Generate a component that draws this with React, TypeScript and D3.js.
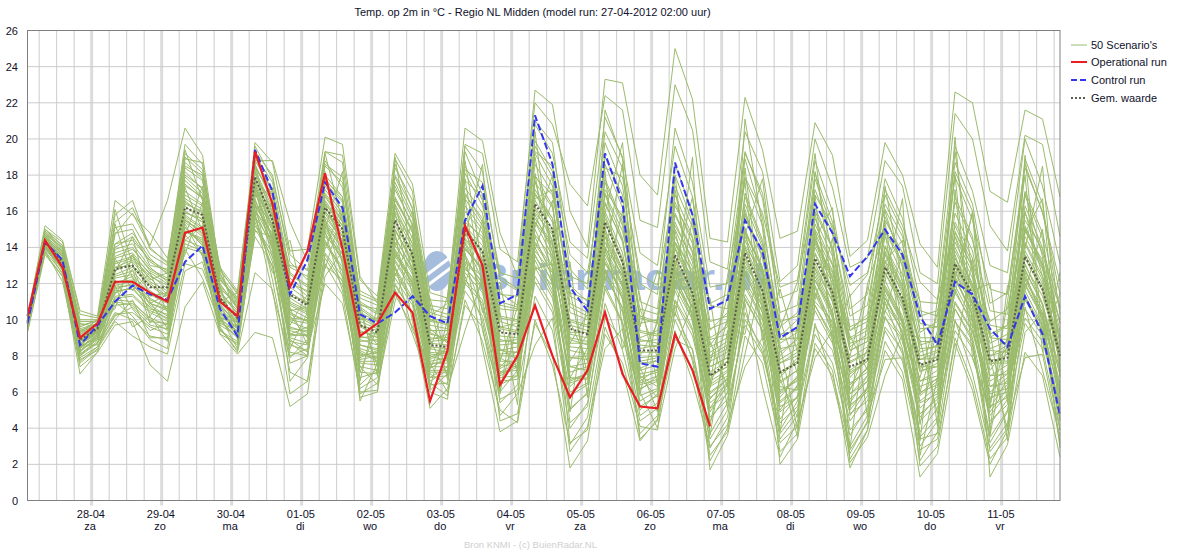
import React from 'react';
import * as d3 from 'd3';

const title = 'Temp. op 2m in °C - Regio NL Midden (model run: 27-04-2012 02:00 uur)';
const footer = 'Bron KNMI - (c) BuienRadar.NL';
const yTicks = [0, 2, 4, 6, 8, 10, 12, 14, 16, 18, 20, 22, 24, 26];
const dayLabels = ['za', 'zo', 'ma', 'di', 'wo', 'do', 'vr', 'za', 'zo', 'ma', 'di', 'wo', 'do', 'vr'];
const legendLabels = ["50 Scenario's", 'Operational run', 'Control run', 'Gem. waarde'];

const operational = [10.2,14.4,12.9,9.0,9.8,12.1,12.1,11.5,11.0,14.8,15.1,11.0,10.2,19.3,16.4,11.8,13.8,18.1,13.9,9.1,9.8,11.5,10.4,5.5,8.3,15.2,13.0,6.4,8.0,10.8,8.0,5.7,7.2,10.4,7.0,5.2,5.1,9.2,7.2,4.1];
const control = [9.8,14.3,13.3,8.6,9.7,11.0,11.9,11.4,11.1,13.2,14.1,10.6,9.1,19.4,17.1,11.4,13.3,17.6,16.2,10.3,9.8,10.4,11.3,10.2,9.8,15.5,17.4,10.9,11.4,21.3,18.6,11.8,10.5,19.2,16.5,7.6,7.4,18.7,15.8,10.6,11.1,15.5,13.8,9.0,9.6,16.4,14.8,12.4,13.5,15.0,13.6,10.2,8.6,12.1,11.4,9.5,8.5,11.3,9.2,4.7];
const mean = [9.9,14.3,13.2,8.9,9.5,12.8,13.0,11.8,11.8,16.2,15.8,11.2,10.1,17.9,15.5,11.4,10.8,16.2,15.0,9.7,9.3,15.5,13.6,8.6,8.5,14.9,13.8,9.3,9.2,16.4,15.0,9.5,9.2,15.4,13.2,8.3,8.3,13.6,11.5,6.9,7.6,13.7,11.6,7.1,7.6,13.4,11.5,7.4,7.8,12.9,11.2,7.5,7.8,13.1,11.4,7.7,7.9,13.5,11.7,8.0];

// estimated by eye, the single members can't really be followed in the picture
const scenarios = [
[9.3,13.6,12.4,7.0,8.2,9.7,9.9,7.5,6.6,10.7,12.1,9.2,8.1,9.3,9.0,5.2,5.9,13.0,12.2,7.4,7.2,12.8,11.0,6.8,7.4,12.2,11.1,6.4,6.9,12.4,10.7,5.8,6.4,12.6,11.2,5.2,5.8,10.4,8.3,3.7,5.4,9.7,8.1,4.3,5.2,9.6,8.3,4.4,5.8,10.2,8.1,3.8,5.1,9.4,7.9,4.9,6.2,10.1,8.8,5.3],
[9.5,14.0,12.8,7.6,8.4,9.9,9.1,8.5,8.1,12.7,13.2,9.6,8.2,12.6,11.7,5.9,6.6,13.4,11.9,6.8,7.1,11.4,9.6,7.3,7.9,13.2,12.4,5.4,6.4,14.6,12.3,4.3,5.2,11.7,9.8,4.7,5.4,12.2,10.0,4.4,6.0,11.2,9.4,3.4,4.7,11.8,9.2,3.9,5.0,9.4,7.7,3.0,4.4,10.6,8.8,3.2,4.9,11.2,9.4,4.4],
[9.6,14.1,13.1,8.1,8.8,10.4,10.0,9.1,8.9,14.0,13.7,9.4,8.6,15.6,13.2,7.6,8.0,14.4,12.7,6.0,6.1,12.0,10.4,6.6,7.2,11.6,10.2,6.0,7.2,13.3,11.4,5.1,5.9,13.9,11.1,5.0,5.9,11.0,9.1,5.1,6.6,12.6,10.4,5.2,5.7,10.8,8.9,2.8,4.3,11.4,9.2,4.6,5.8,9.9,8.6,2.7,4.0,12.4,10.3,3.9],
[9.7,14.2,13.0,8.3,9.0,11.2,11.3,10.4,9.9,15.1,14.2,10.0,9.0,16.6,14.5,8.7,8.0,15.2,13.6,5.5,7.6,13.7,11.9,7.0,6.4,14.3,12.6,7.1,7.6,15.0,12.9,6.3,7.2,12.7,10.6,3.4,4.4,12.8,10.7,2.9,4.6,10.4,8.2,3.9,5.5,12.8,10.6,2.3,3.9,11.0,8.4,2.2,3.8,13.6,10.8,4.2,5.6,12.6,9.9,3.1],
[9.8,14.3,13.2,8.5,9.1,12.0,12.4,10.8,10.2,15.7,15.0,10.4,9.3,17.0,14.9,9.2,9.1,15.7,14.4,7.8,8.0,14.6,12.8,7.7,7.9,13.9,12.9,8.1,8.2,15.8,13.8,7.4,7.6,14.3,12.4,6.5,6.9,13.2,11.1,5.9,6.7,13.4,11.2,6.1,6.6,12.6,10.4,5.6,6.6,12.2,10.0,5.9,6.8,12.3,10.2,5.6,6.4,11.9,10.1,6.1],
[9.8,14.4,13.4,8.8,9.3,12.4,12.7,11.6,11.0,16.0,15.4,10.9,9.6,17.5,15.1,10.0,9.8,16.0,14.8,8.6,8.4,15.0,13.2,8.2,8.1,14.4,13.3,8.6,8.7,16.1,14.4,8.3,8.1,15.0,12.8,7.2,7.5,13.5,11.5,6.4,7.1,13.9,11.7,6.6,7.2,13.1,11.0,6.4,7.3,12.6,10.6,6.6,7.2,12.9,11.0,6.3,7.0,13.1,10.9,6.9],
[9.9,14.5,13.5,9.0,9.5,12.7,13.2,12.1,11.6,16.4,16.0,11.3,10.0,17.9,15.6,10.6,10.1,16.4,15.2,9.4,9.0,15.5,13.7,8.7,8.6,15.0,13.8,9.1,9.0,16.6,15.0,9.0,8.8,15.4,13.1,7.9,8.0,14.0,12.0,6.9,7.4,14.4,12.1,7.0,7.6,13.6,11.6,7.0,7.7,13.2,11.1,7.1,7.6,13.4,11.5,6.9,7.5,13.6,11.8,7.6],
[10.0,14.6,13.6,9.2,9.6,13.1,13.4,12.4,11.9,16.9,16.3,11.6,10.3,18.2,16.0,11.2,10.6,16.9,15.5,9.9,9.5,16.2,14.2,9.2,9.0,15.6,14.4,9.6,9.4,17.2,15.6,9.7,9.4,16.0,13.7,8.6,8.5,14.6,12.5,7.4,7.9,15.0,12.7,7.6,8.0,14.2,12.2,7.6,8.2,13.8,11.8,7.8,8.2,14.0,12.0,7.5,8.1,14.3,12.4,8.2],
[10.0,14.7,13.7,9.4,9.7,13.5,13.9,12.8,12.3,17.4,16.8,12.0,10.6,18.6,16.5,11.8,11.1,17.4,16.1,10.4,9.9,16.8,14.9,9.7,9.5,16.3,15.0,10.2,10.0,18.0,16.3,10.4,10.0,16.9,14.5,9.3,9.1,15.4,13.2,8.0,8.6,15.9,13.4,8.4,8.6,15.0,13.0,8.3,8.8,14.6,12.5,8.6,8.9,14.8,12.9,8.4,8.8,15.2,13.1,9.0],
[10.1,14.9,13.9,9.7,9.9,14.2,14.4,13.3,12.7,18.0,17.3,12.4,11.0,19.0,17.0,12.5,11.8,18.0,16.8,11.0,10.4,17.6,15.6,10.4,10.1,17.3,15.9,11.0,10.7,19.2,17.4,11.3,10.8,17.8,15.4,10.2,9.9,16.5,14.2,8.9,9.2,17.0,14.4,9.2,9.4,16.0,13.9,9.0,9.6,15.7,13.4,9.5,9.6,15.9,13.8,9.2,9.7,16.3,14.0,9.8],
[10.2,15.2,14.4,10.5,10.2,16.6,15.8,14.8,13.4,18.5,18.0,12.9,11.6,19.6,17.8,13.6,12.7,18.8,17.3,11.6,11.1,18.4,16.6,11.1,11.0,19.6,18.2,12.2,11.6,21.0,19.8,12.8,11.7,20.4,18.4,12.0,11.4,20.6,17.6,11.8,12.0,19.2,17.0,11.2,11.6,18.8,16.0,10.6,11.4,17.8,15.6,11.0,10.9,18.7,16.4,10.9,11.5,18.6,15.9,12.1],
[10.1,15.0,14.3,10.3,10.1,15.8,16.6,13.9,13.2,19.7,18.6,12.8,11.4,18.8,18.8,15.4,13.2,19.3,19.1,12.2,11.3,19.2,17.5,11.5,11.2,20.6,19.9,14.8,12.4,22.7,21.9,16.0,14.0,23.3,23.1,18.0,16.9,25.0,22.2,14.5,14.3,22.3,19.4,14.5,14.9,20.9,19.1,13.5,14.4,19.8,18.0,14.2,12.9,22.6,22.0,17.1,16.5,21.6,21.1,16.8],
[10.0,14.8,14.0,9.9,9.9,15.4,16.2,14.1,16.6,20.6,19.1,12.6,10.6,19.8,18.7,13.8,13.9,20.1,19.7,12.4,10.9,18.6,16.1,10.6,10.3,19.7,19.2,13.9,13.2,22.0,20.8,17.5,16.3,22.4,21.6,15.5,15.1,23.0,20.5,13.2,12.8,20.4,18.2,12.1,13.0,20.0,17.3,12.9,13.4,18.8,17.4,12.6,12.0,21.4,20.0,15.2,13.8,20.2,19.7,14.6],
[10.0,14.7,14.0,9.6,10.0,14.8,15.0,13.0,12.8,19.2,18.3,12.5,11.2,19.1,17.6,12.6,11.9,19.3,18.7,11.2,10.8,17.9,15.8,10.2,10.9,18.3,17.6,12.6,12.3,20.8,19.2,14.3,13.4,21.2,19.0,13.7,13.0,19.6,16.8,10.8,10.6,19.3,16.7,10.4,10.8,18.1,15.4,11.3,12.5,17.2,15.2,12.1,11.1,19.6,17.1,13.0,12.6,20.0,17.4,13.1],
[9.9,14.6,13.8,9.4,9.8,14.2,14.8,13.4,12.5,18.7,17.8,12.2,11.1,18.4,16.9,12.0,11.6,18.5,17.6,10.9,10.3,17.2,15.3,9.9,9.8,17.7,16.8,11.4,11.3,19.9,18.2,12.4,12.0,19.8,17.4,11.0,10.6,18.0,15.4,9.9,10.2,17.8,15.2,9.6,10.4,17.2,14.7,10.2,10.8,16.4,14.6,10.5,10.2,17.9,15.5,11.7,11.4,18.4,16.0,11.4],
[9.9,14.5,13.7,9.3,9.7,13.9,14.2,12.9,12.1,18.2,17.2,11.9,10.8,17.8,16.6,11.3,11.0,17.7,16.8,10.6,9.9,16.7,14.8,9.4,9.4,16.9,15.6,10.8,10.6,18.6,17.0,11.5,11.1,18.6,16.2,10.1,9.8,16.9,14.6,9.0,9.6,16.8,14.2,8.9,9.6,16.2,14.0,9.6,10.1,15.5,13.7,9.8,9.6,16.5,14.4,10.5,10.3,17.1,14.8,10.7],
[9.8,14.4,13.5,9.1,9.5,13.4,13.7,12.5,11.7,17.7,16.8,11.5,10.5,17.2,16.2,10.9,10.4,17.2,15.9,10.1,9.6,16.0,14.2,9.0,8.9,16.0,14.8,10.1,9.9,17.6,16.2,10.7,10.2,17.6,15.2,9.4,9.2,15.9,13.8,8.5,9.0,15.8,13.5,8.2,8.9,15.3,13.1,8.9,9.4,14.9,13.0,9.0,9.0,15.4,13.4,9.7,9.5,15.9,13.7,9.8],
[9.8,14.3,13.4,8.9,9.4,12.9,13.0,12.0,11.3,17.1,16.4,11.1,10.2,16.9,15.8,10.4,9.9,16.6,15.2,9.6,9.2,15.2,13.6,8.5,8.4,15.2,14.1,9.5,9.3,16.9,15.6,9.9,9.6,16.5,14.3,8.9,8.7,15.0,12.9,7.9,8.4,14.8,12.8,7.6,8.2,14.5,12.4,8.3,8.8,14.1,12.2,8.4,8.5,14.6,12.6,9.0,8.9,15.0,12.9,9.1],
[9.7,14.2,13.3,8.7,9.2,12.3,12.5,11.4,10.9,16.5,15.9,10.7,9.9,16.5,15.3,9.9,9.5,16.0,14.6,9.1,8.8,14.5,12.9,8.1,8.0,14.5,13.4,8.9,8.7,16.2,14.8,9.2,9.0,15.6,13.4,8.2,8.2,14.2,12.2,7.4,7.9,14.0,12.0,7.1,7.7,13.7,11.7,7.7,8.2,13.3,11.6,7.8,7.9,13.8,11.9,8.3,8.2,14.2,12.2,8.4],
[9.6,14.1,13.1,8.5,9.1,11.8,11.9,10.9,10.5,16.0,15.4,10.3,9.6,16.0,14.8,9.4,9.1,15.4,14.0,8.6,8.3,13.9,12.2,7.6,7.6,13.9,12.8,8.3,8.2,15.4,14.1,8.5,8.4,14.8,12.7,7.6,7.7,13.3,11.4,6.9,7.4,13.2,11.3,6.5,7.2,12.9,11.0,7.1,7.7,12.6,10.9,7.2,7.4,13.0,11.2,7.6,7.6,13.4,11.6,7.8],
[9.5,14.0,13.0,8.3,8.9,11.3,11.4,10.5,10.1,15.5,14.9,10.0,9.4,15.7,14.2,9.0,8.7,14.8,13.3,8.1,7.9,13.2,11.6,7.2,7.2,13.2,12.1,7.7,7.7,14.7,13.4,7.9,7.8,14.0,12.0,7.0,7.2,12.6,10.7,6.3,6.9,12.5,10.7,5.9,6.7,12.2,10.4,6.5,7.1,11.9,10.2,6.6,6.9,12.2,10.5,6.9,7.0,12.7,10.9,7.2],
[9.5,13.9,12.8,8.1,8.7,10.8,10.9,10.1,9.7,14.9,14.4,9.7,9.1,15.2,13.7,8.6,8.3,14.2,12.7,7.6,7.5,12.6,11.0,6.8,6.9,12.6,11.5,7.1,7.2,13.8,12.6,7.4,7.2,13.2,11.4,6.4,6.7,11.8,10.0,5.7,6.4,11.8,10.0,5.4,6.2,11.5,9.8,5.9,6.6,11.2,9.6,6.0,6.4,11.5,9.9,6.3,6.5,12.0,10.2,6.5],
[9.4,13.8,12.6,7.9,8.5,10.3,10.4,9.6,9.2,14.2,13.8,9.4,8.8,14.6,13.0,8.2,8.0,13.6,12.1,7.1,7.0,11.9,10.4,6.4,6.5,12.0,10.9,6.6,6.7,13.0,11.9,6.8,6.7,12.4,10.7,5.8,6.2,11.1,9.4,5.1,5.9,11.1,9.4,4.9,5.7,10.8,9.1,5.3,6.0,10.5,9.0,5.4,5.9,10.9,9.3,5.7,6.0,11.3,9.6,5.9],
[9.7,14.3,13.2,8.9,9.4,14.7,15.9,14.0,13.1,19.4,16.6,10.8,9.2,16.2,16.4,12.9,12.4,16.4,14.1,8.3,7.8,18.9,17.1,8.9,6.9,19.3,16.9,8.4,7.8,16.7,17.2,11.6,6.9,21.6,18.9,6.8,5.7,14.9,11.1,8.8,6.3,21.1,15.1,6.7,4.6,15.9,11.0,9.1,7.2,17.4,12.0,4.2,8.9,19.3,12.5,5.4,9.1,17.0,13.5,4.5],
[10.0,14.5,13.5,9.3,10.0,11.4,12.8,9.8,10.8,18.9,18.7,11.7,9.5,18.7,14.1,9.7,11.4,19.2,15.4,7.1,9.6,14.1,16.0,10.9,6.7,14.6,18.6,7.7,10.7,19.0,13.6,9.9,7.7,17.2,15.7,11.3,6.4,18.0,9.8,6.2,10.1,16.1,12.7,3.8,9.8,14.5,16.2,4.7,6.2,15.4,9.6,8.9,4.8,12.3,15.9,7.9,3.9,19.1,9.2,11.4],
[9.6,14.2,12.7,8.6,8.6,13.4,11.6,12.6,10.4,14.6,17.4,11.9,8.9,17.6,13.8,10.2,9.0,15.0,18.2,10.5,7.4,16.4,12.6,7.3,9.3,17.8,11.8,6.1,9.7,15.1,18.0,7.7,9.2,13.7,18.6,8.0,9.8,16.3,14.5,4.2,8.7,18.4,10.3,8.6,3.9,18.2,13.6,2.9,10.0,13.2,14.4,6.0,9.4,18.0,8.7,3.6,8.8,14.8,16.7,6.8],
[10.1,14.6,13.3,9.0,9.3,15.3,12.3,10.9,11.4,17.3,14.9,12.3,10.9,18.1,15.9,8.4,10.4,13.9,16.3,10.0,10.1,12.4,14.7,6.2,10.0,15.4,10.4,12.1,6.9,18.1,11.9,4.9,11.0,12.1,16.0,7.4,4.9,17.2,12.1,11.2,5.1,14.7,17.8,10.0,7.0,16.9,8.7,11.4,4.6,16.0,12.9,3.3,11.2,14.6,11.6,12.0,5.4,16.0,12.4,10.0],
[9.7,14.0,13.0,8.2,9.6,12.6,14.6,11.0,9.5,15.9,15.6,9.9,10.4,16.8,17.3,10.6,8.6,18.2,13.0,9.8,8.6,13.4,15.3,9.5,8.7,11.9,15.5,10.4,5.3,17.7,14.2,8.7,10.3,18.2,9.4,5.9,10.1,12.9,16.8,7.6,11.3,15.1,8.9,11.7,8.2,11.1,14.5,6.1,8.4,12.1,16.7,2.5,6.8,20.1,9.6,9.4,3.3,13.9,18.5,7.1],
[9.8,14.1,13.6,8.4,9.9,10.6,13.6,12.2,12.6,14.9,14.5,11.0,11.5,15.8,12.6,13.0,12.8,12.8,16.0,6.6,10.8,15.9,11.3,11.2,7.7,16.8,9.4,5.9,11.8,13.9,16.6,6.8,8.4,15.2,8.4,10.6,7.9,11.7,19.0,3.6,9.4,9.2,13.9,7.3,3.5,14.9,10.0,8.0,11.8,10.4,13.7,11.0,4.1,17.2,7.9,5.1,11.0,18.0,8.2,12.6],
[10.0,14.9,14.1,9.8,9.6,16.1,13.1,10.2,11.6,13.6,16.5,13.0,9.8,17.3,13.4,14.4,10.2,15.6,12.3,10.9,6.9,19.0,13.3,8.3,11.3,18.8,12.9,7.4,8.3,20.4,12.8,13.2,5.7,15.9,19.8,9.6,12.7,10.2,15.6,6.4,12.4,17.6,8.9,9.5,12.1,19.2,11.4,5.1,12.0,14.9,8.7,6.8,10.4,11.4,16.0,3.8,11.9,11.6,15.0,5.0],
[9.6,13.9,12.9,7.8,8.3,11.0,10.2,8.9,8.4,15.3,13.5,10.2,8.4,14.9,14.6,6.6,7.9,14.9,11.6,7.4,6.4,11.0,13.9,6.0,5.6,13.7,8.4,3.8,4.4,12.8,13.1,3.1,4.6,10.1,8.9,6.0,4.0,8.4,10.9,1.7,3.6,8.1,12.3,2.0,3.4,8.7,7.2,1.8,3.9,8.3,6.7,1.3,2.6,8.1,13.4,1.3,3.1,8.2,6.9,2.4],
[9.5,14.1,12.5,7.4,8.2,11.9,9.6,10.2,8.8,13.1,12.8,10.1,9.9,16.4,12.2,7.1,6.6,12.4,13.8,5.7,6.0,14.8,9.9,5.1,6.2,9.4,12.3,4.4,4.8,9.8,8.0,1.8,3.3,9.2,7.6,4.1,3.9,10.8,7.7,2.2,4.0,10.9,6.3,2.4,4.4,7.9,9.4,2.1,3.5,6.9,9.2,1.9,3.0,9.0,6.5,2.3,3.5,9.3,10.4,2.9],
[9.9,14.4,13.1,8.0,9.0,12.2,10.6,9.4,9.8,14.4,15.2,9.5,8.3,15.4,12.9,8.0,8.4,12.0,10.9,6.2,6.8,13.0,9.4,7.6,6.0,10.8,9.6,4.7,5.9,8.6,10.1,2.7,4.1,8.4,9.5,3.7,4.7,9.4,6.6,3.0,4.2,7.4,9.0,2.7,3.7,9.8,6.6,2.6,4.4,8.8,7.1,2.8,3.4,8.7,6.1,2.0,3.9,10.7,7.2,3.6],
[9.4,13.8,12.1,7.7,8.5,10.0,11.1,9.0,9.0,13.9,12.3,9.8,9.4,15.9,11.5,7.9,8.9,13.1,11.4,5.9,6.5,11.7,9.2,6.5,5.8,11.1,8.8,5.0,4.3,10.0,7.5,3.2,3.9,9.6,7.2,3.3,4.5,8.9,8.4,2.5,3.8,9.1,7.6,3.2,4.1,8.4,6.9,3.0,4.7,7.8,7.9,3.4,3.7,10.0,7.0,2.9,4.3,7.9,8.1,3.3],
[9.7,13.7,12.4,8.0,8.7,10.2,10.7,9.7,9.5,14.7,13.6,9.2,8.7,15.0,13.5,8.9,8.2,13.7,12.4,6.4,7.3,12.3,10.8,6.1,7.0,12.4,9.9,5.6,6.1,11.3,9.4,4.0,5.4,10.9,8.3,4.4,5.1,10.0,7.9,3.4,5.0,10.0,8.5,3.7,5.0,9.2,7.6,3.6,5.2,9.6,8.3,3.5,4.6,9.9,8.4,3.5,5.0,9.8,8.4,3.9],
[9.6,14.0,12.9,8.4,9.2,11.5,11.8,10.6,10.3,15.1,14.1,10.1,9.2,16.7,14.0,9.5,9.4,15.3,13.9,8.2,7.7,13.6,12.3,7.4,7.4,13.1,10.6,6.8,6.9,12.1,10.4,5.0,6.0,11.9,9.9,5.5,6.1,11.6,9.5,4.6,5.6,11.4,9.7,4.5,5.8,10.5,8.7,4.8,5.5,10.1,8.9,4.4,5.4,10.6,9.0,4.4,5.3,10.6,9.1,4.8],
[9.8,14.2,13.0,8.6,9.3,11.9,12.1,11.1,10.7,15.6,14.7,10.6,9.7,17.1,14.4,10.3,9.9,15.5,14.2,8.9,8.6,14.1,12.7,8.0,7.7,13.6,11.7,7.5,7.4,12.9,11.2,6.0,6.5,12.8,10.4,6.2,6.6,12.4,10.3,5.4,6.2,12.0,10.1,5.0,6.4,11.4,9.5,5.2,6.2,10.9,9.4,5.1,6.1,11.7,9.6,5.2,5.7,11.6,9.7,5.6],
[9.9,14.3,13.3,8.8,9.4,12.5,12.9,11.9,11.2,16.7,16.1,11.4,10.4,17.6,15.4,10.8,10.3,16.3,14.6,9.3,9.2,15.0,13.1,8.4,8.2,14.2,12.2,8.0,8.0,14.0,12.0,6.7,7.0,13.4,11.2,6.8,7.1,12.9,10.9,6.0,6.7,12.7,10.8,5.7,6.9,12.2,10.1,5.9,6.9,11.8,10.0,5.8,6.6,12.4,10.3,5.9,6.2,12.2,10.4,6.3],
[9.9,14.6,13.6,9.1,9.6,13.2,13.5,12.6,12.0,17.5,16.7,11.8,10.7,18.3,16.2,11.5,10.9,17.0,15.7,10.2,9.7,16.4,14.5,9.3,8.8,15.2,13.6,8.8,8.9,15.4,13.5,7.9,8.0,14.6,12.6,7.7,7.9,14.3,12.2,7.1,7.7,14.6,12.4,6.8,7.9,14.4,12.3,6.8,7.9,14.0,11.9,7.4,7.4,14.9,12.9,6.6,7.2,15.1,13.0,7.4],
[10.0,14.8,13.8,9.5,9.8,14.0,14.6,13.2,12.6,18.4,17.7,12.2,11.2,18.8,17.2,12.3,11.5,17.8,16.6,10.8,10.6,17.4,15.2,10.0,9.7,16.7,15.2,9.6,9.8,17.0,15.4,9.3,9.3,16.4,14.4,8.8,8.9,15.8,13.7,8.2,8.8,16.4,14.0,8.0,9.0,15.6,13.5,8.5,9.2,15.0,13.2,8.2,8.6,16.8,14.6,8.0,8.6,16.9,14.5,8.6],
[10.1,15.0,14.1,10.0,10.0,15.1,15.3,13.6,13.0,19.0,18.1,12.7,11.5,19.3,18.0,13.2,12.2,18.6,17.9,11.4,11.0,18.0,16.2,10.8,10.6,18.5,16.6,10.6,10.5,19.6,17.9,10.9,10.4,19.0,16.9,9.8,10.0,18.6,15.9,9.5,9.9,18.9,15.6,9.1,10.0,17.8,15.0,9.4,10.3,16.9,14.9,9.3,9.9,18.2,16.0,9.0,9.7,18.9,16.4,10.3],
[9.7,14.1,12.8,8.2,9.1,11.1,11.0,10.0,9.4,14.4,14.0,9.9,9.0,16.3,14.7,9.6,9.3,15.2,13.2,7.9,8.3,13.3,11.8,7.8,8.3,14.0,12.7,7.9,7.3,13.6,11.6,7.1,7.4,13.6,11.8,6.9,6.3,12.0,10.4,6.7,7.7,13.6,11.0,6.3,6.1,11.0,9.9,6.2,7.4,11.6,9.8,6.3,6.7,11.0,9.4,6.0,6.8,12.3,10.6,7.0],
[9.8,14.2,13.1,8.7,9.3,12.1,12.2,11.2,10.6,15.8,15.1,10.8,9.8,17.3,15.0,10.1,10.0,15.9,14.3,8.8,8.9,14.3,12.5,8.9,9.2,15.4,14.6,9.9,9.6,15.9,14.7,10.0,9.7,15.8,13.3,9.0,9.4,14.3,12.7,8.6,9.8,14.1,12.6,8.7,9.3,14.0,12.0,7.2,7.9,13.6,11.4,7.3,7.8,13.2,11.2,7.2,8.5,14.6,12.8,8.8],
[9.8,14.4,13.4,8.9,9.5,12.9,13.3,12.3,11.4,16.6,15.7,11.2,10.1,17.7,15.8,11.0,10.5,16.8,15.4,9.7,9.4,15.8,14.0,9.4,9.4,17.0,15.4,11.5,10.8,17.9,16.9,11.9,11.0,17.0,14.9,10.6,10.3,15.2,13.4,9.4,10.4,15.6,13.8,9.9,10.2,14.8,12.7,8.7,9.0,13.0,11.0,8.0,8.3,14.3,12.3,8.0,8.3,13.8,12.0,8.0],
[9.9,14.5,13.5,9.2,9.8,13.7,14.0,12.7,12.2,17.9,17.0,11.7,10.9,18.5,16.8,12.1,11.3,17.6,16.5,10.7,10.0,16.6,15.0,10.0,10.0,18.1,16.3,12.4,11.7,19.3,18.5,13.6,12.6,18.4,17.9,12.5,11.9,17.4,15.1,10.9,11.4,17.9,15.9,11.8,12.2,16.9,15.2,11.9,12.6,16.1,14.2,10.2,10.5,15.2,13.1,9.9,10.6,15.5,13.9,10.6],
[9.7,14.1,13.0,8.5,9.0,11.6,11.7,10.7,10.0,15.4,14.6,10.5,9.5,16.1,14.3,9.2,9.6,14.6,13.7,8.4,8.1,13.8,12.0,7.9,8.4,12.8,11.9,7.3,7.8,14.3,12.9,8.7,8.7,14.6,12.2,7.3,7.8,13.9,11.8,7.7,8.2,14.9,12.9,8.9,9.0,14.3,12.6,9.4,9.9,13.7,11.7,8.8,8.8,13.4,11.8,8.7,9.2,14.9,13.3,9.4],
[9.8,14.3,13.2,8.6,9.4,12.7,13.6,11.3,11.5,16.3,15.5,11.0,9.9,17.4,15.2,10.5,10.7,16.5,15.0,9.0,9.1,14.9,13.4,8.8,8.9,14.8,13.0,8.3,8.5,15.6,14.2,8.9,8.6,14.0,12.5,8.4,8.6,13.0,11.1,6.6,7.2,13.0,11.5,7.8,8.4,13.3,11.3,7.9,8.5,12.9,10.8,7.4,8.0,12.7,10.9,7.8,7.7,13.0,11.3,8.2],
[9.6,14.0,12.9,8.3,8.9,11.0,10.8,9.9,9.8,14.9,14.3,10.4,9.3,16.0,13.9,8.8,8.6,14.3,12.9,7.7,7.7,12.9,11.2,7.1,7.1,12.9,11.7,6.9,7.4,13.5,12.2,6.5,6.8,13.1,11.6,6.1,6.9,12.4,10.2,4.9,6.4,12.2,10.4,5.5,6.3,11.9,9.6,5.0,6.3,11.2,9.3,4.8,5.6,11.9,10.0,4.7,5.9,11.1,9.4,5.1],
[9.7,14.2,13.2,8.4,9.2,11.7,12.0,10.9,10.6,15.5,14.8,10.2,9.5,16.4,14.6,9.1,9.2,15.0,13.4,8.0,8.2,13.5,12.1,7.5,7.8,13.4,12.0,7.0,7.5,14.2,12.7,6.6,7.0,13.8,11.9,6.6,7.3,12.7,10.6,5.6,6.8,12.9,11.0,6.0,6.8,12.4,10.3,5.4,6.9,11.7,9.9,5.5,6.3,12.6,10.7,5.1,6.7,12.8,10.8,6.0]
];

const width = 1180;
const height = 550;
const margin = { top: 30.5, right: 120, bottom: 49.5, left: 27.5 };
const hour = 3600000;
const runStart = Date.UTC(2012, 3, 27, 2);
const timeOf = (i: number) => new Date(runStart + i * 6 * hour);

const x = d3.scaleUtc().domain([timeOf(0), timeOf(59)]).range([margin.left, width - margin.right]);
const y = d3.scaleLinear().domain([0, 26]).range([height - margin.bottom, margin.top]);

const line = d3.line<number>().x((_, i) => x(timeOf(i))).y(d => y(d));

const gridHours = d3.utcHour.every(6)!.range(timeOf(0), timeOf(59));
const days = d3.utcDay.range(timeOf(0), timeOf(59));
const dateFormat = d3.utcFormat('%d-%m');

const sans = '"Liberation Sans", Arial, sans-serif';
const gridColor = '#cccccc';
const dayColor = '#dcdcdc';
const axisColor = '#808080';
const textColor = '#10102a';
const scenarioColor = '#9bbb6c';
const redColor = '#ea1c24';
const blueColor = '#3236ee';
const meanColor = '#5c5c48';
const logoColor = '#a6bcdc';

export default function App() {
  const right = width - margin.right;
  const bottom = height - margin.bottom;
  return (
    <div style={{ position: 'absolute', left: 0, top: 0 }}>
      <svg width={width} height={height} style={{ display: 'block' }} fontFamily={sans} fontSize={11}>
        <rect width={width} height={height} fill="#fff" />
        <text x={532.5} y={16} textAnchor="middle" fill={textColor}>{title}</text>

        {/* grid */}
        {gridHours.map(d => (
          <line key={+d} x1={x(d)} x2={x(d)} y1={margin.top} y2={bottom} stroke={gridColor} />
        ))}
        {days.map(d => (
          <line key={+d} x1={x(d)} x2={x(d)} y1={margin.top} y2={bottom + 5} stroke={dayColor} strokeWidth={3} />
        ))}
        {yTicks.map(t => (
          <line key={t} x1={margin.left} x2={right} y1={y(t)} y2={y(t)} stroke={gridColor} />
        ))}

        {/* watermark */}
        <g fill={logoColor}>
          <ellipse cx={437} cy={271} rx={14} ry={20} />
          <line x1={420} x2={452} y1={280} y2={256} stroke="#fff" strokeWidth={3} />
          <line x1={424} x2={452} y1={288} y2={267} stroke="#fff" strokeWidth={3} />
          <text x={477} y={290} fontSize={36} fontWeight="bold" textLength={288} lengthAdjust="spacingAndGlyphs">Buienradar.nl</text>
        </g>

        {/* lines */}
        {scenarios.map((s, i) => (
          <path key={i} d={line(s) || ''} fill="none" stroke={scenarioColor} strokeWidth={1} />
        ))}
        <path d={line(mean) || ''} fill="none" stroke={meanColor} strokeWidth={2} strokeDasharray="2,2" />
        <path d={line(control) || ''} fill="none" stroke={blueColor} strokeWidth={2} strokeDasharray="7,3" />
        <path d={line(operational) || ''} fill="none" stroke={redColor} strokeWidth={2.2} />

        {/* frame */}
        <rect x={margin.left} y={margin.top} width={right - margin.left} height={bottom - margin.top} fill="none" stroke={axisColor} />

        {yTicks.map(t => (
          <text key={t} x={18} y={y(t) + 4} textAnchor="end" fill={textColor}>{t}</text>
        ))}
        {days.map((d, i) => (
          <g key={+d} textAnchor="middle" fill={textColor}>
            <text x={x(d) - 0.8} y={518}>{dateFormat(d)}</text>
            <text x={x(d) - 1.5} y={530}>{dayLabels[i]}</text>
          </g>
        ))}

        <text x={530.5} y={548} textAnchor="middle" fontSize={9.5} fill="#cfcfcf">{footer}</text>

        {/* legend */}
        {legendLabels.map((label, i) => {
          const ly = [45, 62, 80, 98][i];
          const stroke = [scenarioColor, redColor, blueColor, meanColor][i];
          const dash = [undefined, undefined, '6,3', '2,2'][i];
          return (
            <g key={label}>
              <line x1={1071} x2={1087} y1={ly} y2={ly} stroke={stroke} strokeWidth={i === 0 ? 1 : 2} strokeDasharray={dash} />
              <text x={1091} y={ly + 4} fill={textColor}>{label}</text>
            </g>
          );
        })}
      </svg>
    </div>
  );
}
